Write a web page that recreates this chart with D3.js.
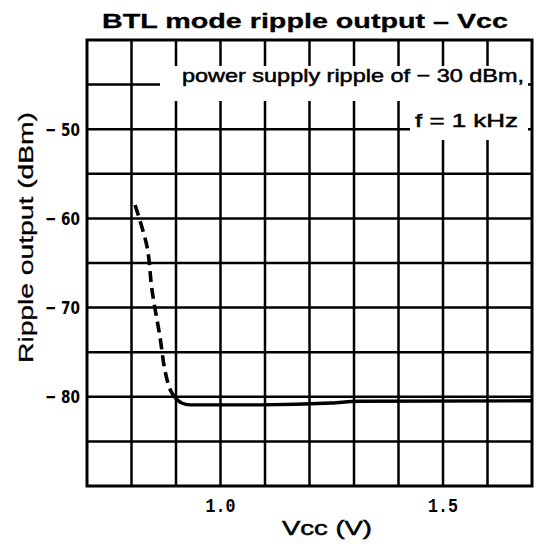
<!DOCTYPE html>
<html><head><meta charset="utf-8">
<script src="https://cdn.jsdelivr.net/npm/d3@7"></script>
<style>body{margin:0;background:#fff}</style>
</head><body>
<script>
const title = "BTL mode ripple output \u2013 Vcc";
const xLabel = "Vcc (V)";
const yLabel = "Ripple output  (dBm)";
const xTicks = [1.0, 1.5];
const xTickLabels = ["1.0", "1.5"];
const yTicks = [-50, -60, -70, -80];
const yTickLabels = ["\u2212 50", "\u2212 60", "\u2212 70", "\u2212 80"];
const dashedVcc = [0.808, 0.835, 0.846, 0.864, 0.875, 0.887, 0.898];
const dashedDbm = [-58.5, -63.2, -68.0, -73.3, -77.0, -79.2, -80.1];
const solidVcc = [0.898, 0.913, 0.931, 1.09, 1.25, 1.31, 1.70];
const solidDbm = [-80.1, -80.7, -80.9, -80.9, -80.7, -80.5, -80.45];
const note1 = "power supply ripple of \u2212 30 dBm,";
const note2 = "f  =  1 kHz";

const W = 536, H = 544;
const svg = d3.select("body").append("svg").attr("width", W).attr("height", H);
const x = d3.scaleLinear().domain([0.7, 1.7]).range([87, 532]);
const y = d3.scaleLinear().domain([-40, -90]).range([40, 486]);
const SANS = "Liberation Sans, Arial, Helvetica, sans-serif";

// grid
const g = svg.append("g");
g.selectAll("line.v").data(d3.range(0.8, 1.65, 0.1)).join("line")
  .attr("x1", d => x(d)).attr("x2", d => x(d)).attr("y1", y(-40)).attr("y2", y(-90))
  .attr("stroke", "#000").attr("stroke-width", 2.5);
g.selectAll("line.h").data(d3.range(-45, -89, -5)).join("line")
  .attr("y1", d => y(d)).attr("y2", d => y(d)).attr("x1", x(0.7)).attr("x2", x(1.7))
  .attr("stroke", "#000").attr("stroke-width", 2.5);

// masks for annotation
svg.append("rect").attr("x", 160).attr("y", 66).attr("width", 368).attr("height", 35).attr("fill", "#fff");
svg.append("rect").attr("x", 410).attr("y", 101).attr("width", 118).attr("height", 39).attr("fill", "#fff");

// frame
svg.append("rect").attr("x", x(0.7)).attr("y", y(-40)).attr("width", x(1.7) - x(0.7)).attr("height", y(-90) - y(-40))
  .attr("fill", "none").attr("stroke", "#000").attr("stroke-width", 3);

// curves
svg.append("path").attr("d", d3.line().curve(d3.curveCatmullRom)(dashedVcc.map((v, i) => [x(v), y(dashedDbm[i])])))
  .attr("fill", "none").attr("stroke", "#000").attr("stroke-width", 3.6).attr("stroke-dasharray", "11,6");
svg.append("path").attr("d", d3.line().curve(d3.curveMonotoneX)(solidVcc.map((v, i) => [x(v), y(solidDbm[i])])))
  .attr("fill", "none").attr("stroke", "#000").attr("stroke-width", 3.4);

// texts
function txt(s, px, py, size, len, opts = {}) {
  const t = svg.append("text").attr("x", px).attr("y", py)
    .attr("font-family", opts.family || SANS).attr("font-size", size)
    .attr("font-weight", opts.weight || "normal")
    .attr("textLength", len).attr("lengthAdjust", "spacingAndGlyphs")
    .attr("stroke", "#000").attr("stroke-width", opts.sw == null ? 0.5 : opts.sw)
    .text(s);
  if (opts.transform) t.attr("transform", opts.transform);
  return t;
}
txt(title, 102, 28, 21, 406, {weight: "bold", sw: 0.3});
txt(note1, 182, 82, 18.5, 342);
txt(note2, 415, 127, 18.5, 103);
txt(xLabel, 282, 535, 20, 90);
txt(yLabel, 0, 0, 21, 251, {transform: "translate(33,363) rotate(-90)", sw: 0.3});

svg.selectAll("text.yt").data(yTicks).join("text")
  .attr("x", 45).attr("y", d => y(d) + 6.5)
  .attr("font-family", "DejaVu Sans Condensed, DejaVu Sans, sans-serif").attr("font-weight", "bold")
  .attr("font-size", 18).attr("textLength", 35).attr("lengthAdjust", "spacingAndGlyphs")
  .text((d, i) => yTickLabels[i]);
svg.selectAll("text.xt").data(xTicks).join("text")
  .attr("x", d => x(d) - 15).attr("y", 512)
  .attr("font-family", "Liberation Mono, monospace").attr("font-weight", "bold").attr("font-size", 21)
  .attr("textLength", 30).attr("lengthAdjust", "spacingAndGlyphs")
  .text((d, i) => xTickLabels[i]);
</script>
</body></html>
